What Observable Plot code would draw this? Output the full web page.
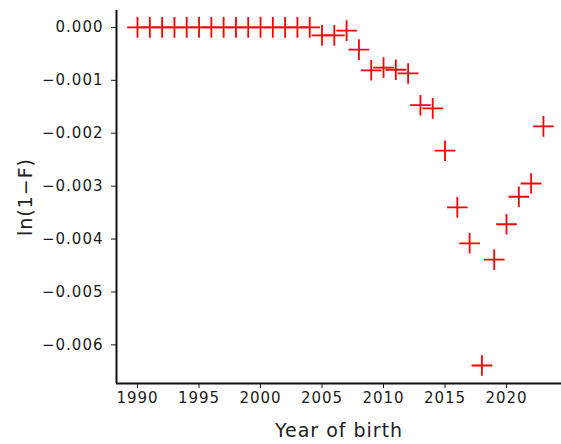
<!DOCTYPE html>
<html><head><meta charset="utf-8">
<script src="https://cdn.jsdelivr.net/npm/d3@7"></script>
<script src="https://cdn.jsdelivr.net/npm/@observablehq/plot@0.6"></script>
<style>
html,body{margin:0;padding:0;background:#fff;}
#chart svg{font-family:"DejaVu Sans",sans-serif;letter-spacing:1px;}
</style></head><body><div id="chart"></div>
<script>
const years = [1990,1991,1992,1993,1994,1995,1996,1997,1998,1999,2000,2001,2002,2003,2004,
  2005,2006,2007,2008,2009,2010,2011,2012,2013,2014,2015,2016,2017,2018,2019,2020,2021,2022,2023];
const lnValues = [0,0,0,0,0,0,0,0,0,0,0,0,0,0,0,
  -0.00015,-0.00015,-0.00006,-0.00042,-0.00081,-0.00076,-0.0008,-0.00087,-0.00147,-0.00153,
  -0.00233,-0.0034,-0.00408,-0.00639,-0.00439,-0.00372,-0.0032,-0.00295,-0.00187];
const xTicks = [1990,1995,2000,2005,2010,2015,2020];
const yTicks = [0,-0.001,-0.002,-0.003,-0.004,-0.005,-0.006];
const xTitle = "Year of birth";
const yTitle = "ln(1\u2212F)";
const xDomain = [1988.29, 2024.47];
const yDomain = [-0.00673, 0.00032];

const data = years.map((yr, i) => ({year: yr, v: lnValues[i]}));

const chart = Plot.plot({
  width: 561, height: 444,
  marginLeft: 116, marginRight: 0, marginTop: 10, marginBottom: 61,
  style: {fontSize: "15px", color: "#1a1a1a", background: "white", overflow: "visible"},
  x: {domain: xDomain, ticks: xTicks, tickFormat: "d", tickSize: 5, tickPadding: 4, label: null},
  y: {domain: yDomain, ticks: yTicks, tickFormat: ".3f", tickSize: 5, tickPadding: 8, label: null},
  marks: [
    Plot.ruleX([xDomain[0]], {stroke: "#111", strokeWidth: 2}),
    Plot.ruleY([yDomain[0]], {stroke: "#111", strokeWidth: 2}),
    Plot.dot(data, {x: "year", y: "v", symbol: "plus", r: 6.7, stroke: "#f00", strokeWidth: 1.8}),
    Plot.text([xTitle], {frameAnchor: "bottom", dy: 47, textAnchor: "middle", lineAnchor: "middle", fontSize: 19, fill: "#222"}),
    Plot.text([yTitle], {frameAnchor: "left", dx: -91, textAnchor: "middle", lineAnchor: "middle", rotate: -90, fontSize: 19, fill: "#222"})
  ]
});
document.getElementById("chart").appendChild(chart);
</script></body></html>
